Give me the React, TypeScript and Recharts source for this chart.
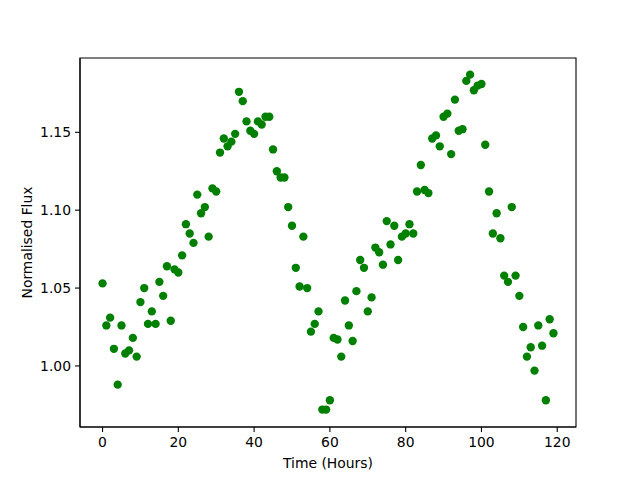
import React from 'react';
import { ScatterChart, Scatter, XAxis, YAxis, ReferenceArea, Label } from 'recharts';

const hours = [
  0, 1, 2, 3, 4, 5, 6, 7, 8, 9, 10, 11, 12, 13, 14, 15, 16, 17, 18, 19,
  20, 21, 22, 23, 24, 25, 26, 27, 28, 29, 30, 31, 32, 33, 34, 35, 36, 37, 38, 39,
  40, 41, 42, 43, 44, 45, 46, 47, 48, 49, 50, 51, 52, 53, 54, 55, 56, 57, 58, 59,
  60, 61, 62, 63, 64, 65, 66, 67, 68, 69, 70, 71, 72, 73, 74, 75, 76, 77, 78, 79,
  80, 81, 82, 83, 84, 85, 86, 87, 88, 89, 90, 91, 92, 93, 94, 95, 96, 97, 98, 99,
  100, 101, 102, 103, 104, 105, 106, 107, 108, 109, 110, 111, 112, 113, 114, 115, 116, 117, 118, 119,
];

const flux = [
  1.053, 1.026, 1.031, 1.011, 0.988, 1.026, 1.008, 1.010, 1.018, 1.006,
  1.041, 1.050, 1.027, 1.035, 1.027, 1.054, 1.045, 1.064, 1.029, 1.062,
  1.060, 1.071, 1.091, 1.085, 1.079, 1.110, 1.098, 1.102, 1.083, 1.114,
  1.112, 1.137, 1.146, 1.141, 1.144, 1.149, 1.176, 1.170, 1.157, 1.151,
  1.149, 1.157, 1.155, 1.160, 1.160, 1.139, 1.125, 1.121, 1.121, 1.102,
  1.090, 1.063, 1.051, 1.083, 1.050, 1.022, 1.027, 1.035, 0.972, 0.972,
  0.978, 1.018, 1.017, 1.006, 1.042, 1.026, 1.016, 1.048, 1.068, 1.063,
  1.035, 1.044, 1.076, 1.073, 1.065, 1.093, 1.078, 1.090, 1.068, 1.083,
  1.085, 1.091, 1.085, 1.112, 1.129, 1.113, 1.111, 1.146, 1.148, 1.141,
  1.160, 1.162, 1.136, 1.171, 1.151, 1.152, 1.183, 1.187, 1.177, 1.180,
  1.181, 1.142, 1.112, 1.085, 1.098, 1.082, 1.058, 1.054, 1.102, 1.058,
  1.045, 1.025, 1.006, 1.012, 0.997, 1.026, 1.013, 0.978, 1.030, 1.021,
];

const xTicks = [0, 20, 40, 60, 80, 100, 120];
const yTicks = [1.0, 1.05, 1.1, 1.15];
const xDomain = [-5.95, 124.95];
const yDomain = [0.9608, 1.1977];
const xLabel = 'Time (Hours)';
const yLabel = 'Normalised Flux';

const data = hours.map((h, i) => ({ h, f: flux[i] }));

const FONT = 'DejaVu Sans';
const FS = 13.9;

const Dot = (props: any) => (
  <circle cx={props.cx} cy={props.cy} r={4.17} fill="#008000" />
);

export default function App() {
  return (
    <div style={{ position: 'absolute', left: 0, top: 0, width: 640, height: 480, background: '#fff' }}>
      <ScatterChart
        width={640}
        height={480}
        margin={{ top: 58, right: 64, bottom: 0, left: 0 }}
      >
        <XAxis
          type="number"
          dataKey="h"
          domain={xDomain}
          allowDataOverflow
          ticks={xTicks}
          height={53}
          tickSize={5}
          tickMargin={5}
          axisLine={{ stroke: '#000', strokeWidth: 1.1 }}
          tickLine={{ stroke: '#000', strokeWidth: 1.1 }}
          tick={{ fill: '#000', fontFamily: FONT, fontSize: FS }}
        >
          <Label
            content={(p: any) => {
              const vb = p.viewBox || { x: 80, y: 427, width: 496 };
              return (
                <text x={vb.x + vb.width / 2} y={vb.y + 41} textAnchor="middle" fontFamily={FONT} fontSize={FS} fill="#000">
                  {xLabel}
                </text>
              );
            }}
          />
        </XAxis>
        <YAxis
          type="number"
          dataKey="f"
          domain={yDomain}
          allowDataOverflow
          ticks={yTicks}
          width={80}
          tickSize={5}
          tickMargin={4}
          tickFormatter={(v: number) => v.toFixed(2)}
          axisLine={{ stroke: '#000', strokeWidth: 1.1 }}
          tickLine={{ stroke: '#000', strokeWidth: 1.1 }}
          tick={{ fill: '#000', fontFamily: FONT, fontSize: FS }}
        >
          <Label
            content={(p: any) => {
              const vb = p.viewBox || { x: 0, y: 58, height: 369 };
              const cx = vb.x + 31.5;
              const cy = vb.y + vb.height / 2;
              return (
                <text x={cx} y={cy} transform={`rotate(-90 ${cx} ${cy})`} textAnchor="middle" fontFamily={FONT} fontSize={FS} fill="#000">
                  {yLabel}
                </text>
              );
            }}
          />
        </YAxis>
        <ReferenceArea
          x1={xDomain[0]}
          x2={xDomain[1]}
          y1={yDomain[0]}
          y2={yDomain[1]}
          fill="none"
          fillOpacity={0}
          stroke="#000"
          strokeWidth={1.1}
          ifOverflow="visible"
        />
        <Scatter data={data} shape={Dot} isAnimationActive={false} />
      </ScatterChart>
    </div>
  );
}
